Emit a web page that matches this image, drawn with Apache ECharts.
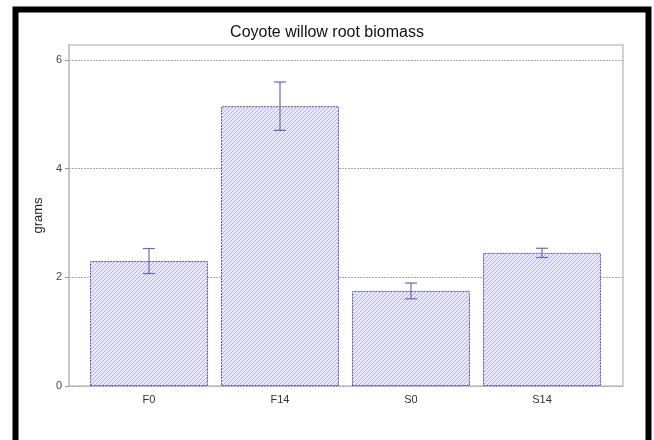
<!DOCTYPE html>
<html>
<head>
<meta charset="utf-8">
<script src="https://cdn.jsdelivr.net/npm/echarts@6/dist/echarts.min.js"></script>
<style>html,body{margin:0;padding:0;background:#fff}#c{width:654px;height:440px}</style>
</head>
<body>
<div id="c"></div>
<script>
const categories = ['F0', 'F14', 'S0', 'S14'];
const means = [2.30, 5.15, 1.75, 2.45];
const errors = [0.23, 0.445, 0.145, 0.085];
const yTicks = [0, 2, 4, 6];

const yMax = 6.276;

// hatch pattern
const pc = document.createElement('canvas');
pc.width = 4; pc.height = 4;
const g = pc.getContext('2d');
g.fillStyle = '#e8e8f6';
g.fillRect(0, 0, 4, 4);
g.strokeStyle = '#b4b4dc';
g.lineWidth = 1;
g.beginPath();
g.moveTo(0, 4); g.lineTo(4, 0);
g.moveTo(-1, 1); g.lineTo(1, -1);
g.moveTo(3, 5); g.lineTo(5, 3);
g.stroke();

const chart = echarts.init(document.getElementById('c'), null, {renderer: 'canvas'});
const font = 'Liberation Sans, Arial, sans-serif';

chart.setOption({
  animation: false,
  backgroundColor: '#fff',
  title: {
    text: 'Coyote willow root biomass',
    left: 'center', top: 20,
    textStyle: {fontFamily: font, fontSize: 16, fontWeight: 'normal', color: '#111'}
  },
  graphic: [{
    type: 'rect', silent: true, z: 100,
    shape: {x: 15.5, y: 9.5, width: 633, height: 600},
    style: {fill: 'none', stroke: '#000', lineWidth: 6}
  }],
  grid: [
    {left: 69, right: 31, top: 45, bottom: 54, show: true, borderColor: '#c4c4c4', borderWidth: 1.5, backgroundColor: 'transparent'},
    {left: 83.5, right: 46.5, top: 45, bottom: 54}
  ],
  xAxis: [
    {gridIndex: 0, type: 'value', min: 0, max: 1, show: false},
    {gridIndex: 1, type: 'category', data: categories, boundaryGap: true,
     axisLine: {show: false}, axisTick: {show: false},
     axisLabel: {fontFamily: font, fontSize: 11, color: '#333', margin: 8}}
  ],
  yAxis: [
    {gridIndex: 0, type: 'value', min: 0, max: yMax, interval: 2,
     name: 'grams', nameLocation: 'middle', nameGap: 23, nameRotate: 90,
     nameTextStyle: {fontFamily: font, fontSize: 13, color: '#222'},
     axisLine: {show: true, lineStyle: {color: '#c4c4c4', width: 1.5}},
     axisTick: {show: true, length: 4, lineStyle: {color: '#999'},
                customValues: yTicks},
     axisLabel: {fontFamily: font, fontSize: 11, color: '#444', margin: 7,
                 customValues: yTicks},
     splitLine: {show: true, lineStyle: {color: '#aaa', type: [2, 1], width: 1}}
    },
    {gridIndex: 1, type: 'value', min: 0, max: yMax, show: false}
  ],
  series: [
    {
      type: 'bar', xAxisIndex: 1, yAxisIndex: 1,
      data: means, barCategoryGap: '10%',
      itemStyle: {
        color: {image: pc, repeat: 'repeat'},
        borderColor: '#5050b8', borderWidth: 1, borderType: [2, 1]
      }
    },
    {
      type: 'custom', xAxisIndex: 1, yAxisIndex: 1, z: 10,
      data: categories.map((c, i) => [i, means[i] - errors[i], means[i] + errors[i]]),
      renderItem: function (params, api) {
        const x = api.value(0);
        const lo = api.coord([x, api.value(1)]);
        const hi = api.coord([x, api.value(2)]);
        const cap = 6;
        const st = {stroke: '#6a6ab8', lineWidth: 1.2, fill: 'none'};
        return {type: 'group', children: [
          {type: 'line', shape: {x1: lo[0], y1: lo[1], x2: hi[0], y2: hi[1]}, style: st},
          {type: 'line', shape: {x1: hi[0] - cap, y1: hi[1], x2: hi[0] + cap, y2: hi[1]}, style: st},
          {type: 'line', shape: {x1: lo[0] - cap, y1: lo[1], x2: lo[0] + cap, y2: lo[1]}, style: st}
        ]};
      }
    }
  ]
});
</script>
</body>
</html>
